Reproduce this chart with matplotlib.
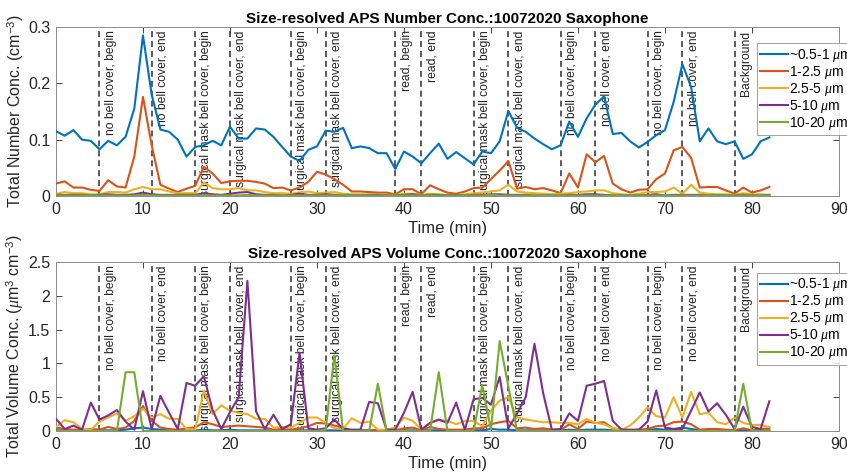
import numpy as np
import matplotlib
matplotlib.use("Agg")
from matplotlib import pyplot as plt

# minutes 0..82, one sample per minute
time_min = list(range(83))

# ---- number concentration (cm^-3) ----
num_05_1 = [0.115, 0.107, 0.117, 0.100, 0.098, 0.083, 0.098, 0.090, 0.105, 0.155,
            0.285, 0.180, 0.118, 0.114, 0.100, 0.070, 0.087, 0.090, 0.098, 0.090,
            0.123, 0.102, 0.102, 0.120, 0.118, 0.105, 0.087, 0.070, 0.062, 0.082,
            0.088, 0.116, 0.114, 0.121, 0.085, 0.088, 0.085, 0.076, 0.076, 0.048,
            0.079, 0.070, 0.058, 0.076, 0.093, 0.066, 0.078, 0.067, 0.056, 0.079,
            0.076, 0.097, 0.151, 0.121, 0.114, 0.102, 0.092, 0.083, 0.090, 0.132,
            0.105, 0.138, 0.162, 0.177, 0.110, 0.112, 0.097, 0.086, 0.096, 0.108,
            0.117, 0.167, 0.234, 0.194, 0.097, 0.120, 0.097, 0.092, 0.097, 0.066,
            0.074, 0.097, 0.104]
num_1_25 = [0.022, 0.026, 0.015, 0.015, 0.011, 0.009, 0.028, 0.017, 0.015, 0.070,
            0.176, 0.090, 0.020, 0.013, 0.007, 0.013, 0.018, 0.052, 0.040, 0.023,
            0.026, 0.027, 0.027, 0.025, 0.022, 0.014, 0.015, 0.010, 0.015, 0.025,
            0.043, 0.038, 0.030, 0.020, 0.008, 0.008, 0.007, 0.006, 0.006, 0.003,
            0.012, 0.012, 0.003, 0.019, 0.012, 0.006, 0.004, 0.008, 0.014, 0.015,
            0.030, 0.045, 0.062, 0.013, 0.016, 0.012, 0.014, 0.010, 0.005, 0.040,
            0.015, 0.074, 0.060, 0.071, 0.022, 0.012, 0.006, 0.011, 0.012, 0.030,
            0.040, 0.081, 0.087, 0.068, 0.015, 0.016, 0.016, 0.010, 0.004, 0.015,
            0.006, 0.010, 0.016]
num_25_5 = [0.004, 0.007, 0.005, 0.005, 0.003, 0.003, 0.007, 0.007, 0.006, 0.012,
            0.016, 0.012, 0.012, 0.008, 0.005, 0.005, 0.005, 0.024, 0.014, 0.012,
            0.012, 0.014, 0.010, 0.010, 0.007, 0.005, 0.005, 0.004, 0.006, 0.008,
            0.005, 0.006, 0.007, 0.004, 0.003, 0.003, 0.003, 0.002, 0.002, 0.002,
            0.004, 0.004, 0.002, 0.004, 0.003, 0.002, 0.002, 0.003, 0.005, 0.006,
            0.008, 0.010, 0.020, 0.008, 0.006, 0.005, 0.004, 0.003, 0.004, 0.005,
            0.007, 0.008, 0.010, 0.010, 0.005, 0.003, 0.002, 0.004, 0.007, 0.007,
            0.008, 0.015, 0.004, 0.020, 0.006, 0.004, 0.003, 0.003, 0.002, 0.005,
            0.003, 0.003, 0.002]
num_5_10 = [0.002, 0.002, 0.002, 0.002, 0.001, 0.002, 0.003, 0.002, 0.002, 0.003,
            0.006, 0.003, 0.002, 0.002, 0.002, 0.002, 0.002, 0.005, 0.003, 0.002,
            0.004, 0.006, 0.007, 0.003, 0.002, 0.002, 0.001, 0.002, 0.004, 0.002,
            0.002, 0.003, 0.002, 0.001, 0.001, 0.001, 0.002, 0.002, 0.001, 0.001,
            0.002, 0.003, 0.001, 0.002, 0.002, 0.001, 0.002, 0.001, 0.002, 0.002,
            0.003, 0.003, 0.002, 0.002, 0.002, 0.001, 0.001, 0.001, 0.001, 0.002,
            0.002, 0.003, 0.003, 0.002, 0.001, 0.001, 0.001, 0.001, 0.002, 0.003,
            0.001, 0.002, 0.002, 0.002, 0.002, 0.001, 0.001, 0.001, 0.001, 0.002,
            0.001, 0.001, 0.002]
num_10_20 = [0.001] * 10 + [0.002] + [0.001] * 11 + [0.002] + [0.001] * 27 + [0.002] + [0.001] * 32

# ---- volume concentration (um^3 cm^-3) ----
vol_05_1 = [0.01, 0.01, 0.01, 0.01, 0.01, 0.01, 0.01, 0.01, 0.02, 0.04,
            0.05, 0.03, 0.02, 0.01, 0.01, 0.01, 0.01, 0.02, 0.01, 0.01,
            0.02, 0.01, 0.01, 0.01, 0.01, 0.01, 0.01, 0.01, 0.01, 0.01,
            0.01, 0.01, 0.01, 0.01, 0.01, 0.01, 0.01, 0.01, 0.01, 0.01,
            0.01, 0.01, 0.01, 0.01, 0.01, 0.01, 0.01, 0.01, 0.01, 0.01,
            0.03, 0.02, 0.02, 0.01, 0.01, 0.01, 0.01, 0.01, 0.01, 0.02,
            0.01, 0.02, 0.02, 0.02, 0.01, 0.01, 0.01, 0.01, 0.01, 0.03,
            0.02, 0.03, 0.05, 0.03, 0.01, 0.01, 0.01, 0.01, 0.01, 0.01,
            0.01, 0.01, 0.01]
vol_1_25 = [0.05, 0.03, 0.02, 0.02, 0.03, 0.02, 0.06, 0.03, 0.05, 0.15,
            0.37, 0.15, 0.05, 0.03, 0.02, 0.04, 0.05, 0.13, 0.10, 0.06,
            0.07, 0.08, 0.07, 0.06, 0.05, 0.02, 0.03, 0.02, 0.04, 0.07,
            0.12, 0.11, 0.08, 0.05, 0.01, 0.01, 0.01, 0.01, 0.01, 0.01,
            0.04, 0.05, 0.01, 0.06, 0.03, 0.02, 0.02, 0.02, 0.04, 0.04,
            0.10, 0.13, 0.15, 0.04, 0.05, 0.03, 0.04, 0.02, 0.01, 0.10,
            0.03, 0.14, 0.12, 0.13, 0.04, 0.02, 0.01, 0.02, 0.03, 0.07,
            0.08, 0.13, 0.14, 0.10, 0.02, 0.03, 0.03, 0.02, 0.01, 0.04,
            0.01, 0.03, 0.04]
vol_25_5 = [0.06, 0.16, 0.13, 0.03, 0.02, 0.14, 0.20, 0.26, 0.15, 0.22,
            0.33, 0.20, 0.25, 0.18, 0.18, 0.03, 0.02, 0.60, 0.25, 0.38,
            0.30, 0.27, 0.25, 0.18, 0.18, 0.05, 0.06, 0.05, 0.12, 0.20,
            0.20, 0.12, 0.04, 0.03, 0.19, 0.12, 0.14, 0.02, 0.02, 0.05,
            0.20, 0.15, 0.02, 0.12, 0.16, 0.15, 0.10, 0.15, 0.15, 0.07,
            0.30, 0.45, 0.50, 0.20, 0.17, 0.15, 0.13, 0.13, 0.12, 0.12,
            0.10, 0.18, 0.12, 0.10, 0.04, 0.02, 0.08, 0.20, 0.35, 0.22,
            0.20, 0.50, 0.20, 0.58, 0.25, 0.27, 0.13, 0.10, 0.20, 0.12,
            0.09, 0.09, 0.06]
vol_5_10 = [0.18, 0.03, 0.08, 0.02, 0.42, 0.17, 0.23, 0.31, 0.14, 0.02,
            0.59, 0.03, 0.52, 0.27, 0.03, 0.71, 0.67, 0.81, 0.31, 0.03,
            0.28, 0.50, 2.22, 0.29, 0.03, 0.24, 0.03, 0.10, 1.16, 0.04,
            0.02, 0.04, 0.17, 0.03, 0.02, 0.02, 0.43, 0.41, 0.02, 0.02,
            0.27, 0.58, 0.02, 0.12, 0.17, 0.12, 0.42, 0.02, 0.47, 0.49,
            0.39, 0.80, 0.04, 0.26, 0.50, 1.29, 0.56, 0.02, 0.03, 0.26,
            0.15, 0.67, 0.70, 0.74, 0.15, 0.02, 0.02, 0.02, 0.14, 0.60,
            0.05, 0.03, 0.03, 0.30, 0.57, 0.29, 0.41, 0.24, 0.03, 0.36,
            0.06, 0.03, 0.44]
vol_10_20 = [0.0] * 8 + [0.87, 0.87] + [0.0] * 21 + [0.02, 1.12] + [0.0] * 4 + [0.70] + [0.0] * 6 \
    + [0.87] + [0.0] * 4 + [0.68, 0.02, 1.33, 0.66] + [0.0] * 26 + [0.70] + [0.0] * 3

size_labels = ["~0.5-1 $\\mu$m", "1-2.5 $\\mu$m", "2.5-5 $\\mu$m", "5-10 $\\mu$m", "10-20 $\\mu$m"]
colors = ["#0072BD", "#D95319", "#EDB120", "#7E2F8E", "#77AC30"]

# event markers
event_times = [5, 11, 16, 20, 27, 31, 39, 42, 48, 52, 58, 62, 68, 72, 78]
event_labels = ["no bell cover, begin", "no bell cover, end",
                "surgical mask bell cover, begin", "surgical mask bell cover, end",
                "surgical mask bell cover, begin", "surgical mask bell cover, end",
                "read, begin", "read, end",
                "surgical mask bell cover, begin", "surgical mask bell cover, end",
                "no bell cover, begin", "no bell cover, end",
                "no bell cover, begin", "no bell cover, end",
                "Background"]

plt.rcParams['font.family'] = ['Liberation Sans', 'DejaVu Sans']
plt.rcParams['mathtext.fontset'] = 'custom'
plt.rcParams['mathtext.it'] = 'Liberation Serif:italic'
plt.rcParams['mathtext.rm'] = 'Liberation Sans'

GRAY = '#262626'


def draw_panel(ax, series, ylim, yticks, title, ylabel):
    # event lines and their labels
    for t, lab in zip(event_times, event_labels):
        ax.axvline(t, color='#4d4d4d', lw=1.3, linestyle=(0, (3.3, 2.2)), zorder=1)
        ax.text(t + 1.3, 0.98, lab, rotation=90, ha='center', va='top', fontsize=8.7,
                color=GRAY, transform=ax.get_xaxis_transform(), zorder=2)

    for vals, c, lab in zip(series, colors, size_labels):
        ax.plot(time_min, vals, color=c, lw=1.5, label=lab, zorder=3)

    ax.set_xlim(0, 90)
    ax.set_ylim(*ylim)
    ax.set_xticks(range(0, 91, 10))
    ax.set_yticks(yticks)
    ax.set_yticklabels([f"{v:g}" for v in yticks])
    ax.tick_params(direction='in', top=True, right=True, labelsize=11.5, colors=GRAY,
                   length=4, width=0.6, pad=4)
    for sp in ax.spines.values():
        sp.set_color('#8c8c8c')
        sp.set_linewidth(0.7)
    ax.set_title(title, fontsize=11, fontweight='bold', color='black', pad=3)
    ax.set_xlabel("Time (min)", fontsize=12, color=GRAY, labelpad=3)
    ax.set_ylabel(ylabel, fontsize=11.5, color=GRAY)
    ax.yaxis.set_label_coords(-0.038, 0.5)


fig = plt.figure(figsize=(8.47, 4.74), dpi=100)
ax1 = fig.add_axes([0.0661, 0.5865, 0.9244, 0.3565])
ax2 = fig.add_axes([0.0661, 0.0907, 0.9244, 0.3565])

draw_panel(ax1, [num_05_1, num_1_25, num_25_5, num_5_10, num_10_20], (0, 0.3),
           [0, 0.1, 0.2, 0.3], "Size-resolved APS Number Conc.:10072020 Saxophone",
           "Total Number Conc. (cm$^{-3}$)")
draw_panel(ax2, [vol_05_1, vol_1_25, vol_25_5, vol_5_10, vol_10_20], (0, 2.5),
           [0, 0.5, 1, 1.5, 2, 2.5], "Size-resolved APS Volume Conc.:10072020 Saxophone",
           "Total Volume Conc. ($\\mu$m$^3$ cm$^{-3}$)")

for ax, top in ((ax1, 0.905), (ax2, 0.935)):
    leg = ax.legend(loc='upper left', bbox_to_anchor=(0.895, top), borderaxespad=0,
                    fontsize=10, frameon=True, fancybox=False, handlelength=2.0,
                    handletextpad=0.1, labelspacing=0.0, borderpad=0.25)
    leg.get_frame().set_edgecolor('#8c8c8c')
    leg.get_frame().set_linewidth(0.7)
    leg.set_zorder(5)

fig.savefig("out.png", dpi=100)
